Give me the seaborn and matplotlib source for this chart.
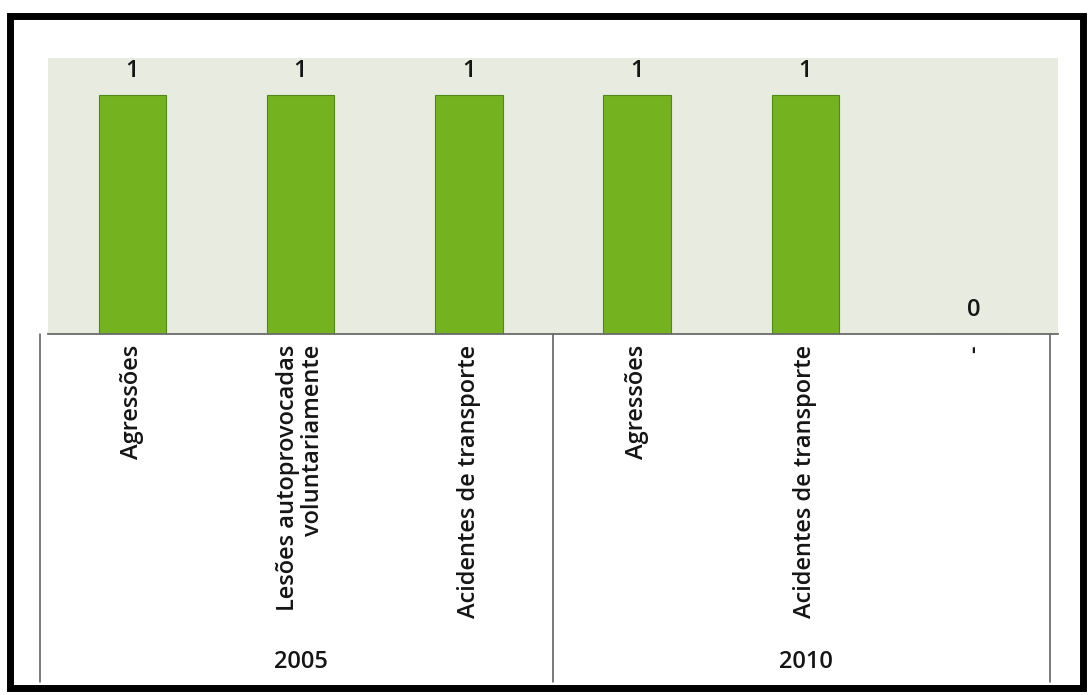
import matplotlib
matplotlib.use("Agg")
import matplotlib.pyplot as plt
from matplotlib.patches import Rectangle
from matplotlib.lines import Line2D
import pandas as pd
import seaborn as sns

# Data
years = ["2005", "2005", "2005", "2010", "2010", "2010"]
causes = ["Agressões", "Lesões autoprovocadas\nvoluntariamente", "Acidentes de transporte",
          "Agressões", "Acidentes de transporte", "-"]
values = [1, 1, 1, 1, 1, 0]
year_groups = ["2005", "2010"]

sns.set_theme(style="white")
plt.rcParams["font.family"] = ["Open Sans", "DejaVu Sans"]

df = pd.DataFrame({"key": [f"{y}|{c}" for y, c in zip(years, causes)],
                   "cause": causes, "year": years, "value": values})

fig = plt.figure(figsize=(10.9, 6.95), dpi=100)
fig.patch.set_facecolor("white")

ax = fig.add_axes([48 / 1090, 1 - 334 / 695, 1010 / 1090, 276 / 695])
ax.set_facecolor("#e8ebe0")

sns.barplot(data=df, x="key", y="value", color="#74b31f", saturation=1,
            width=0.4, edgecolor="#4e8a14", linewidth=0.8, ax=ax)

ax.set_ylim(0, 1.156)
ax.set_xlim(-0.5, len(df) - 0.5)
ax.set_yticks([])
ax.set_xticks([])
ax.set_xlabel("")
ax.set_ylabel("")
for s in ["top", "left", "right"]:
    ax.spines[s].set_visible(False)
ax.spines["bottom"].set_color("#6a6a6a")
ax.spines["bottom"].set_linewidth(1.3)

txt_kw = dict(fontsize=17, color="#151515", fontweight="semibold")

# Value labels
for i, v in enumerate(df["value"]):
    ax.text(i, v + 0.05, f"{v}", ha="center", va="bottom", **txt_kw)

# Category labels (rotated) and group labels
tr = ax.get_xaxis_transform()
for i, c in enumerate(df["cause"]):
    ax.text(i, -0.04, c, rotation=90, ha="center", va="top", multialignment="right",
            linespacing=1.05, transform=tr, clip_on=False, **txt_kw)

n_per_group = [years.count(y) for y in year_groups]
start = 0
for y, n in zip(year_groups, n_per_group):
    center = start + (n - 1) / 2
    ax.text(center, -1.19, y, ha="center", va="center",
            transform=tr, clip_on=False, **txt_kw)
    start += n

# Category table lines
line_kw = dict(color="#555555", linewidth=1.1, transform=tr, clip_on=False)
bounds = [-0.55, 2.5, 5.45]
for b in bounds:
    ax.add_line(Line2D([b, b], [0, -1.26], **line_kw))

# Outer frame
fig.add_artist(Rectangle((10 / 1090, 7 / 695), 1073 / 1090, 672 / 695,
                         transform=fig.transFigure, fill=False,
                         edgecolor="black", linewidth=5))

fig.savefig("out.png", dpi=100)
